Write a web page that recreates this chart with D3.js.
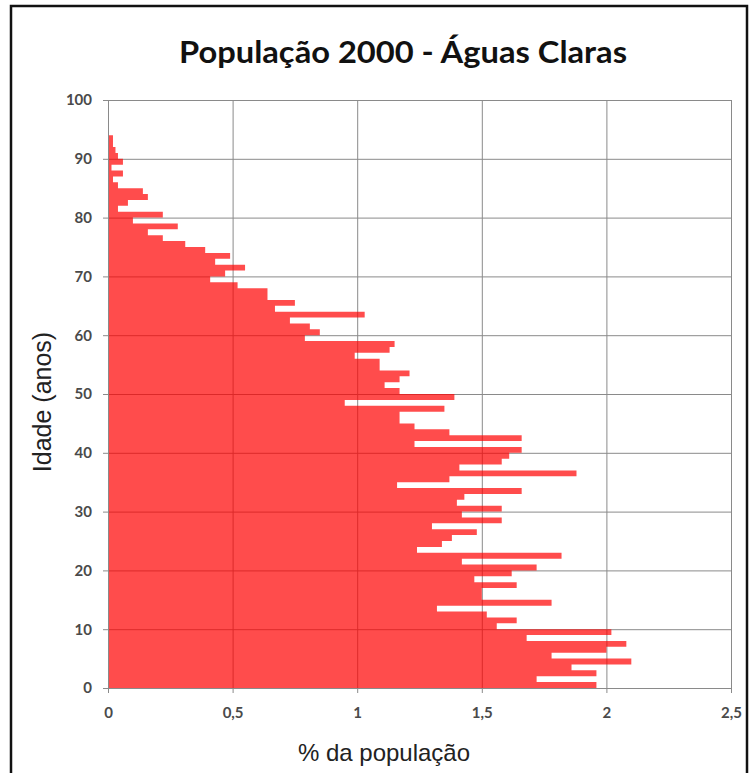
<!DOCTYPE html>
<html>
<head>
<meta charset="utf-8">
<script src="https://cdn.jsdelivr.net/npm/d3@7"></script>
<style>
  html, body { margin: 0; padding: 0; background: #fff; }
  svg { display: block; }
</style>
</head>
<body>
<svg id="chart" width="751" height="773"></svg>
<script>
// ---- data ----
const title = "População 2000 - Águas Claras";
const xTitle = "% da população";
const yTitle = "Idade (anos)";
const ages = d3.range(0, 94);
const values = [
  1.96, 1.72, 1.96, 1.86, 2.10, 1.78, 2.00, 2.08, 1.68, 2.02,
  1.56, 1.64, 1.52, 1.32, 1.78, 1.50, 1.50, 1.64, 1.47, 1.62,
  1.72, 1.42, 1.82, 1.24, 1.34, 1.38, 1.48, 1.30, 1.58, 1.42,
  1.58, 1.40, 1.43, 1.66, 1.16, 1.37, 1.88, 1.41, 1.58, 1.61,
  1.66, 1.23, 1.66, 1.37, 1.23, 1.17, 1.17, 1.35, 0.95, 1.39,
  1.17, 1.11, 1.17, 1.21, 1.09, 1.09, 0.99, 1.13, 1.15, 0.79,
  0.85, 0.81, 0.73, 1.03, 0.67, 0.75, 0.64, 0.64, 0.52, 0.41,
  0.47, 0.55, 0.43, 0.49, 0.39, 0.31, 0.22, 0.16, 0.28, 0.10,
  0.22, 0.04, 0.08, 0.16, 0.14, 0.04, 0.02, 0.06, 0.014, 0.06,
  0.04, 0.03, 0.02, 0.02
];
const xTicks = [0, 0.5, 1, 1.5, 2, 2.5];
const xTickLabels = ["0", "0,5", "1", "1,5", "2", "2,5"];
const yTicks = [0, 10, 20, 30, 40, 50, 60, 70, 80, 90, 100];

// ---- drawing ----
const svg = d3.select("#chart");
const W = 751, H = 773;
const plot = { left: 108, right: 731, top: 100, bottom: 688 };

const x = d3.scaleLinear().domain([0, 2.5]).range([plot.left, plot.right]);
const y = d3.scaleLinear().domain([0, 100]).range([plot.bottom, plot.top]);

svg.append("rect").attr("width", W).attr("height", H).attr("fill", "#fff");

// frame
svg.append("rect")
  .attr("x", 11).attr("y", 6).attr("width", 736).attr("height", 790)
  .attr("fill", "none").attr("stroke", "#111").attr("stroke-width", 2.5);

// title
svg.append("text")
  .attr("x", 403).attr("y", 63)
  .attr("text-anchor", "middle")
  .attr("font-family", "Lato, 'Open Sans', sans-serif")
  .attr("font-weight", "bold")
  .attr("font-size", 31)
  .attr("textLength", 448)
  .attr("lengthAdjust", "spacingAndGlyphs")
  .attr("fill", "#111")
  .text(title);

// gridlines
const gridColor = "#8a8a8a";
svg.append("g")
  .attr("transform", `translate(0,${plot.bottom})`)
  .call(d3.axisBottom(x).tickValues(xTicks).tickSize(-(plot.bottom - plot.top)).tickFormat(""))
  .call(g => g.select(".domain").remove())
  .call(g => g.selectAll("line").attr("stroke", gridColor).attr("stroke-width", 1));

svg.append("g")
  .attr("transform", `translate(${plot.left},0)`)
  .call(d3.axisLeft(y).tickValues(yTicks).tickSize(-(plot.right - plot.left)).tickFormat(""))
  .call(g => g.select(".domain").remove())
  .call(g => g.selectAll("line").attr("stroke", gridColor).attr("stroke-width", 1));

// bars: one path made of one rectangle per age (avoids seams between bars)
const barPath = d3.path();
ages.forEach(a => {
  const x0 = x(0), x1 = x(values[a]);
  const yTop = y(a + 1), yBot = y(a);
  barPath.rect(x0, yTop, x1 - x0, yBot - yTop);
});
svg.append("path")
  .attr("d", barPath.toString())
  .attr("fill", "#ff0000")
  .attr("fill-opacity", 0.7);

// axes with small tick marks and labels
svg.append("g")
  .attr("transform", `translate(${plot.left},0)`)
  .call(d3.axisLeft(y).tickValues(yTicks).tickSize(5).tickPadding(11))
  .call(g => g.select(".domain").attr("stroke", gridColor))
  .call(g => g.selectAll("line").attr("stroke", gridColor))
  .call(g => g.selectAll("text")
    .attr("font-family", "Lato, 'Liberation Sans', sans-serif")
    .attr("font-size", 15).attr("font-weight", "bold").attr("fill", "#4a4a4a"));

svg.append("g")
  .attr("transform", `translate(0,${plot.bottom})`)
  .call(d3.axisBottom(x).tickValues(xTicks).tickSize(5).tickPadding(14)
    .tickFormat((d, i) => xTickLabels[i]))
  .call(g => g.select(".domain").attr("stroke", gridColor))
  .call(g => g.selectAll("line").attr("stroke", gridColor))
  .call(g => g.selectAll("text")
    .attr("font-family", "Lato, 'Liberation Sans', sans-serif")
    .attr("font-size", 15).attr("font-weight", "bold").attr("fill", "#4a4a4a"));

// axis titles
svg.append("text")
  .attr("x", 384).attr("y", 761)
  .attr("text-anchor", "middle")
  .attr("font-family", "'Liberation Sans', Arial, sans-serif")
  .attr("font-size", 24)
  .attr("fill", "#222")
  .text(xTitle);

svg.append("text")
  .attr("transform", "translate(51,402) rotate(-90)")
  .attr("text-anchor", "middle")
  .attr("font-family", "'Liberation Sans', Arial, sans-serif")
  .attr("font-size", 25)
  .attr("fill", "#222")
  .text(yTitle);
</script>
</body>
</html>
